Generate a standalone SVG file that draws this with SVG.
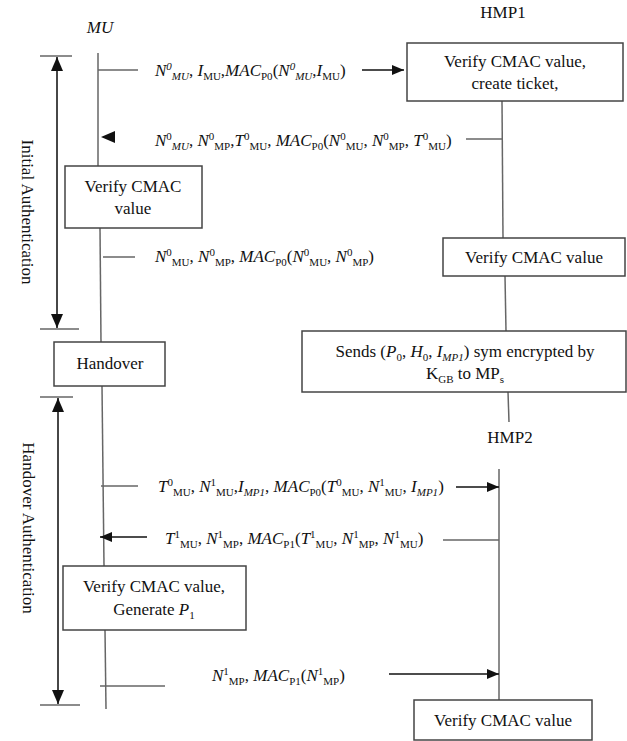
<svg xmlns="http://www.w3.org/2000/svg" width="627" height="741" viewBox="0 0 627 741">
<style>
text{font-family:"Liberation Serif","Times New Roman",serif;font-size:17px;fill:#111}
.c{text-anchor:middle}
.i{font-style:italic}
.s{font-size:11px}
.box{fill:#fff;stroke:#444;stroke-width:1.5}
.life{stroke:#666;stroke-width:1.5;fill:none}
.stub{stroke:#666;stroke-width:1.5;fill:none}
.arr{stroke:#111;stroke-width:1.6;fill:none;marker-end:url(#ah)}
.span{stroke:#333;stroke-width:1.8;fill:none;marker-start:url(#bh);marker-end:url(#bh)}
.tick{stroke:#666;stroke-width:1.5}
</style>
<defs>
<marker id="ah" viewBox="0 0 12 10" refX="12" refY="5" markerWidth="12" markerHeight="10" markerUnits="userSpaceOnUse" orient="auto"><path d="M0,0 L12,5 L0,10 Z" fill="#111"/></marker>
<marker id="bh" viewBox="0 0 14 12" refX="14" refY="6" markerWidth="14" markerHeight="12" markerUnits="userSpaceOnUse" orient="auto-start-reverse"><path d="M0,0 L14,6 L0,12 Z" fill="#111"/></marker>
</defs>

<g id="labels">
<text class="c i" x="100" y="33">MU</text>
<text class="c" x="503" y="18">HMP1</text>
<text class="c" x="510" y="443">HMP2</text>
<text class="c" font-size="16.5" transform="translate(22,212) rotate(90)">Initial  Authentication</text>
<text class="c" font-size="16.5" transform="translate(23,528) rotate(90)">Handover Authentication</text>
</g>

<g id="connectors">
<!-- lifelines -->
<line class="life" x1="98" y1="53" x2="98" y2="166"/>
<line class="life" x1="100" y1="228" x2="101" y2="342"/>
<line class="life" x1="102" y1="386" x2="104" y2="566"/>
<line class="life" x1="105" y1="630" x2="106" y2="709"/>
<line class="life" x1="502" y1="101" x2="503" y2="238"/>
<line class="life" x1="505" y1="276" x2="506" y2="331"/>
<line class="life" x1="508" y1="392" x2="509" y2="422"/>
<line class="life" x1="499" y1="469" x2="499" y2="700"/>
<!-- phase spans -->
<line class="tick" x1="40" y1="56" x2="72" y2="56"/>
<line class="span" x1="57" y1="57" x2="57" y2="328"/>
<line class="tick" x1="40" y1="329" x2="79" y2="329"/>
<line class="tick" x1="40" y1="397" x2="73" y2="397"/>
<line class="span" x1="58" y1="398" x2="58" y2="704"/>
<line class="tick" x1="40" y1="705" x2="80" y2="705"/>
<!-- messages -->
<line class="stub" x1="98" y1="70" x2="138" y2="70"/>
<line class="arr" x1="362" y1="70" x2="404" y2="70"/>
<polygon points="101,137 115,131 115,143" fill="#111"/>
<line class="stub" x1="466" y1="139" x2="502" y2="139"/>
<line class="stub" x1="103" y1="257" x2="135" y2="257"/>
<line class="stub" x1="101" y1="486" x2="138" y2="486"/>
<line class="arr" x1="456" y1="487" x2="499" y2="487"/>
<line class="arr" x1="147" y1="537" x2="100" y2="537"/>
<line class="stub" x1="443" y1="540" x2="499" y2="540"/>
<line class="stub" x1="100" y1="686" x2="165" y2="686"/>
<line class="arr" x1="389" y1="674" x2="499" y2="674"/>
</g>

<g id="msg1"><text x="155" y="76"><tspan class="i">N</tspan><tspan class="s i" baseline-shift="6">0</tspan><tspan class="s i" baseline-shift="-4">MU</tspan>, <tspan class="i">I</tspan><tspan class="s" baseline-shift="-4">MU</tspan>,<tspan class="i">MAC</tspan><tspan class="s" baseline-shift="-4">P0</tspan>(<tspan class="i">N</tspan><tspan class="s i" baseline-shift="6">0</tspan><tspan class="s i" baseline-shift="-4">MU</tspan>,<tspan class="i">I</tspan><tspan class="s" baseline-shift="-4">MU</tspan>)</text></g>

<g id="msg2"><text x="155" y="146"><tspan class="i">N</tspan><tspan class="s" baseline-shift="6">0</tspan><tspan class="s i" baseline-shift="-4">MU</tspan>, <tspan class="i">N</tspan><tspan class="s" baseline-shift="6">0</tspan><tspan class="s" baseline-shift="-4">MP</tspan>,<tspan class="i">T</tspan><tspan class="s" baseline-shift="6">0</tspan><tspan class="s" baseline-shift="-4">MU</tspan>, <tspan class="i">MAC</tspan><tspan class="s" baseline-shift="-4">P0</tspan>(<tspan class="i">N</tspan><tspan class="s" baseline-shift="6">0</tspan><tspan class="s" baseline-shift="-4">MU</tspan>, <tspan class="i">N</tspan><tspan class="s" baseline-shift="6">0</tspan><tspan class="s" baseline-shift="-4">MP</tspan>, <tspan class="i">T</tspan><tspan class="s" baseline-shift="6">0</tspan><tspan class="s" baseline-shift="-4">MU</tspan>)</text></g>

<g id="msg3"><text x="155" y="262"><tspan class="i">N</tspan><tspan class="s" baseline-shift="6">0</tspan><tspan class="s" baseline-shift="-4">MU</tspan>, <tspan class="i">N</tspan><tspan class="s" baseline-shift="6">0</tspan><tspan class="s" baseline-shift="-4">MP</tspan>, <tspan class="i">MAC</tspan><tspan class="s" baseline-shift="-4">P0</tspan>(<tspan class="i">N</tspan><tspan class="s" baseline-shift="6">0</tspan><tspan class="s" baseline-shift="-4">MU</tspan>, <tspan class="i">N</tspan><tspan class="s" baseline-shift="6">0</tspan><tspan class="s" baseline-shift="-4">MP</tspan>)</text></g>

<g id="msg4"><text x="158" y="492"><tspan class="i">T</tspan><tspan class="s" baseline-shift="6">0</tspan><tspan class="s" baseline-shift="-4">MU</tspan>, <tspan class="i">N</tspan><tspan class="s" baseline-shift="6">1</tspan><tspan class="s" baseline-shift="-4">MU</tspan>,<tspan class="i">I</tspan><tspan class="s i" baseline-shift="-4">MP1</tspan>, <tspan class="i">MAC</tspan><tspan class="s" baseline-shift="-4">P0</tspan>(<tspan class="i">T</tspan><tspan class="s" baseline-shift="6">0</tspan><tspan class="s" baseline-shift="-4">MU</tspan>, <tspan class="i">N</tspan><tspan class="s" baseline-shift="6">1</tspan><tspan class="s" baseline-shift="-4">MU</tspan>, <tspan class="i">I</tspan><tspan class="s i" baseline-shift="-4">MP1</tspan>)</text></g>

<g id="msg5"><text x="165" y="544"><tspan class="i">T</tspan><tspan class="s" baseline-shift="6">1</tspan><tspan class="s" baseline-shift="-4">MU</tspan>, <tspan class="i">N</tspan><tspan class="s" baseline-shift="6">1</tspan><tspan class="s" baseline-shift="-4">MP</tspan>, <tspan class="i">MAC</tspan><tspan class="s" baseline-shift="-4">P1</tspan>(<tspan class="i">T</tspan><tspan class="s" baseline-shift="6">1</tspan><tspan class="s" baseline-shift="-4">MU</tspan>, <tspan class="i">N</tspan><tspan class="s" baseline-shift="6">1</tspan><tspan class="s" baseline-shift="-4">MP</tspan>, <tspan class="i">N</tspan><tspan class="s" baseline-shift="6">1</tspan><tspan class="s" baseline-shift="-4">MU</tspan>)</text></g>

<g id="msg6"><text x="212" y="681"><tspan class="i">N</tspan><tspan class="s" baseline-shift="6">1</tspan><tspan class="s" baseline-shift="-4">MP</tspan>, <tspan class="i">MAC</tspan><tspan class="s" baseline-shift="-4">P1</tspan>(<tspan class="i">N</tspan><tspan class="s" baseline-shift="6">1</tspan><tspan class="s" baseline-shift="-4">MP</tspan>)</text></g>

<g id="hmp1-verify-create">
<rect class="box" x="407" y="43" width="216" height="58"/>
<text class="c" x="515" y="67">Verify CMAC value,</text>
<text class="c" x="515" y="89">create ticket,</text>
</g>
<g id="mu-verify">
<rect class="box" x="65" y="166" width="137" height="62"/>
<text class="c" x="133" y="192">Verify CMAC</text>
<text class="c" x="133" y="214">value</text>
</g>
<g id="hmp1-verify">
<rect class="box" x="443" y="238" width="182" height="38"/>
<text class="c" x="534" y="263">Verify CMAC value</text>
</g>
<g id="handover">
<rect class="box" x="54" y="342" width="111" height="44"/>
<text class="c" x="110" y="369">Handover</text>
</g>
<g id="sends">
<rect class="box" x="302" y="331" width="324" height="61"/>
<text class="c" x="465" y="357">Sends (<tspan class="i">P</tspan><tspan class="s" baseline-shift="-4">0</tspan>, <tspan class="i">H</tspan><tspan class="s" baseline-shift="-4">0</tspan>, <tspan class="i">I</tspan><tspan class="s i" baseline-shift="-4">MP1</tspan>) sym encrypted by</text>
<text class="c" x="465" y="379">K<tspan class="s" baseline-shift="-4">GB</tspan> to MP<tspan class="s" baseline-shift="-4">s</tspan></text>
</g>
<g id="mu-verify-generate">
<rect class="box" x="63" y="566" width="183" height="64"/>
<text class="c" x="154" y="592">Verify CMAC value,</text>
<text class="c" x="154" y="615">Generate <tspan class="i">P</tspan><tspan class="s" baseline-shift="-4">1</tspan></text>
</g>
<g id="hmp2-verify">
<rect class="box" x="414" y="700" width="178" height="40"/>
<text class="c" x="503" y="726">Verify CMAC value</text>
</g>
</svg>
